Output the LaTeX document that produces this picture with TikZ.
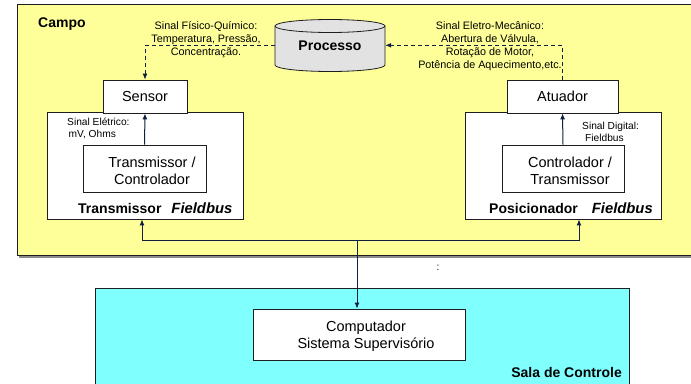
\documentclass[tikz,border=0pt]{standalone}
\usepackage{fontspec}
\setmainfont{Liberation Sans}
\usetikzlibrary{arrows.meta}
\definecolor{campofill}{RGB}{255,255,153}
\definecolor{salafill}{RGB}{128,255,255}
\definecolor{procfill}{RGB}{226,226,226}
\definecolor{wire}{RGB}{16,32,64}
\definecolor{edge}{RGB}{30,30,30}

\tikzset{
  zone/.style={draw=edge, line width=0.9pt, anchor=north west, inner sep=0pt},
  box/.style={draw=edge, fill=white, line width=0.8pt, inner sep=0pt,
    font=\fontsize{14.5}{17}\selectfont},
  big/.style={font=\fontsize{14.5}{16.7}\selectfont, inner sep=0pt, align=center},
  title/.style={font=\fontsize{14}{17}\selectfont\bfseries, inner sep=0pt},
  small/.style={font=\fontsize{10.8}{13}\selectfont, inner sep=0pt, align=center},
  tiny/.style={font=\fontsize{10.2}{11.8}\selectfont, inner sep=0pt, align=left},
  wirearrow/.style={draw=wire, line width=1pt, -{Latex[length=6pt,width=5pt]}},
  dashedarrow/.style={wirearrow, dash pattern=on 4pt off 3pt},
}
\newcommand{\fbtag}{\fontsize{14.8}{17}\selectfont\itshape Fieldbus}

\begin{document}
\begin{tikzpicture}[x=1pt, y=-1pt]
\useasboundingbox (0,0) rectangle (691,383);

% field area and control room
\fill[black!45] (19,254) rectangle (700,257.5);
\node[zone, fill=campofill, minimum width=683pt, minimum height=251pt] (campo) at (17,4) {};
\node[zone, fill=salafill, minimum width=534pt, minimum height=120pt] (sala) at (95,288) {};

% process vessel
\filldraw[fill=procfill, draw=edge, line width=0.8pt]
  (275,26) -- (275,65) arc[start angle=180, end angle=360, x radius=55pt, y radius=6.5pt]
  -- (385,26) arc[start angle=0, end angle=180, x radius=55pt, y radius=6.5pt] -- cycle;
\draw[edge, line width=0.8pt] (275,26) arc[start angle=180, end angle=360, x radius=55pt, y radius=6.5pt];
\node[title, minimum width=110pt, minimum height=20pt] (proc) at (330,45.3) {Processo};

% field devices
\node[box, minimum width=196pt, minimum height=107pt] (tf) at (145,165.5) {};
\node[box, minimum width=196pt, minimum height=107pt] (pf) at (563,165.5) {};
\node[box, minimum width=84pt, minimum height=33pt] (sensor) at (145,96.5) {Sensor};
\node[box, minimum width=111pt, minimum height=33pt] (atuador) at (562.5,96.5) {Atuador};
\node[box, minimum width=123pt, minimum height=47pt] (tc) at (144.5,168.5) {};
\node[box, minimum width=122pt, minimum height=47pt] (ct) at (563,168.5) {};
\node[box, minimum width=212pt, minimum height=51pt] (comp) at (359,334.5) {};

% texts
\node[title, anchor=base west] (campolbl) at (38,27) {Campo};
\node[small] (lblq) at (206,39.3) {Sinal Físico-Químico:\\Temperatura, Pressão,\\Concentração.};
\node[small] (lblm) at (490,46.3) {Sinal Eletro-Mecânico:\\Abertura de Válvula,\\Rotação de Motor,\\Potência de Aquecimento,etc.};
\node[tiny, anchor=west] (lble) at (67,128.5) {Sinal Elétrico:\\\hspace*{1.5pt}mV, Ohms};
\node[tiny, anchor=west] (lbld) at (582,132) {Sinal Digital:\\\hspace*{3pt}Fieldbus};
\node[big] (tctxt) at (152,171) {Transmissor /\\Controlador};
\node[big] (cttxt) at (570,171) {Controlador /\\Transmissor};
\node[title, anchor=base west] (tftitle) at (78,213) {Transmissor\hspace{10pt}\fbtag};
\node[title, anchor=base west] (pftitle) at (489,213) {Posicionador\hspace{14pt}\fbtag};
\node[big] (comptxt) at (366,336) {Computador\\Sistema Supervisório};
\node[title, anchor=base east] (salalbl) at (622,377) {Sala de Controle};
\node[tiny] (dots) at (438,268) {:};

% signal paths
\draw[dashedarrow] (proc.west) -| (sensor.north);
\draw[dashedarrow] (atuador.north) |- (proc.east);
\draw[wirearrow] (tc.north) -- (sensor.south);
\draw[wirearrow] (ct.north) -- (atuador.south);

% fieldbus network
\coordinate (bus) at (357,240);
\draw[wirearrow] (bus) -| ([xshift=-3pt]tf.south);
\draw[wirearrow] (bus) -| ([xshift=16pt]pf.south);
\draw[wirearrow] (bus) -- (bus |- comp.north);
\end{tikzpicture}
\end{document}
